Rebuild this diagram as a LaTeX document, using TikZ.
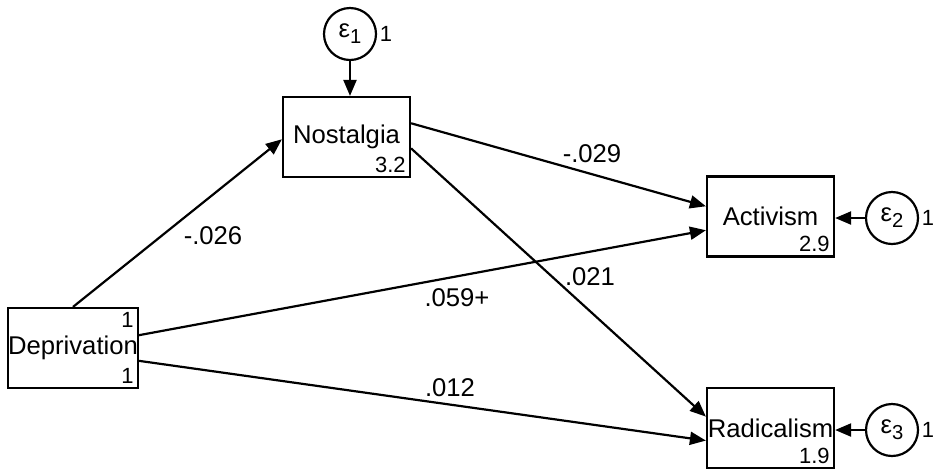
\documentclass[tikz,border=0pt]{standalone}
\usepackage{fontspec}
\setmainfont{Liberation Sans}
\usetikzlibrary{arrows.meta}

\newcommand{\errlab}[1]{ε\raisebox{-0.45ex}{\fontsize{11.5}{13}\selectfont #1}}

\begin{document}
\begin{tikzpicture}[every node/.style={font=\fontsize{14.6}{17}\selectfont},>={Triangle[length=0.32cm,width=0.26cm]},line width=1.25pt,
  var/.style={draw,minimum width=2.54cm,minimum height=1.6cm,inner sep=0pt},
  err/.style={draw,circle,minimum size=1.04cm,inner sep=0pt},
  num/.style={font=\fontsize{12.5}{14}\selectfont,inner sep=2.5pt}]
\useasboundingbox (0,0) rectangle (18.66,-9.4);
% variables
\node[var] (nost) at (6.93,-2.74) {Nostalgia};
\node[var] (depr) at (1.46,-6.96) {Deprivation};
\node[var] (act) at (15.41,-4.33) {Activism};
\node[var] (rad) at (15.41,-8.56) {Radicalism};
\node[num,anchor=south east] (nostc) at (nost.south east) {3.2};
\node[num,anchor=north east] (deprv) at (depr.north east) {1};
\node[num,anchor=south east] (deprc) at (depr.south east) {1};
\node[num,anchor=south east] (actc) at (act.south east) {2.9};
\node[num,anchor=south east] (radc) at (rad.south east) {1.9};
% errors
\node[err] (e1) at (7.0,-0.68) {\errlab{1}};
\node[err] (e2) at (17.84,-4.36) {\errlab{2}};
\node[err] (e3) at (17.84,-8.6) {\errlab{3}};
\node[num,anchor=west,inner sep=1pt] (e1v) at (e1.east) {1};
\node[num,anchor=west,inner sep=1pt] (e2v) at (e2.east) {1};
\node[num,anchor=west,inner sep=1pt] (e3v) at (e3.east) {1};
\draw[->] (e1)--(e1 |- nost.north);
\draw[->] (e2)--(e2 -| act.east);
\draw[->] (e3)--(e3 -| rad.east);
% paths
\draw[->] (depr.north)--(nost.182);
\draw[->] (nost.12)--(act.171);
\draw[->] (nost.-10)--(rad.170);
\draw[->] (depr.11)--(act.192);
\draw[->] (depr.-11)--(rad.191);
\node (l1) at (4.26,-4.72) {-.026};
\node (l2) at (11.84,-3.08) {-.029};
\node (l3) at (11.8,-5.54) {.021};
\node (l4) at (9.14,-5.96) {.059+};
\node (l5) at (9.0,-7.76) {.012};
\end{tikzpicture}
\end{document}
